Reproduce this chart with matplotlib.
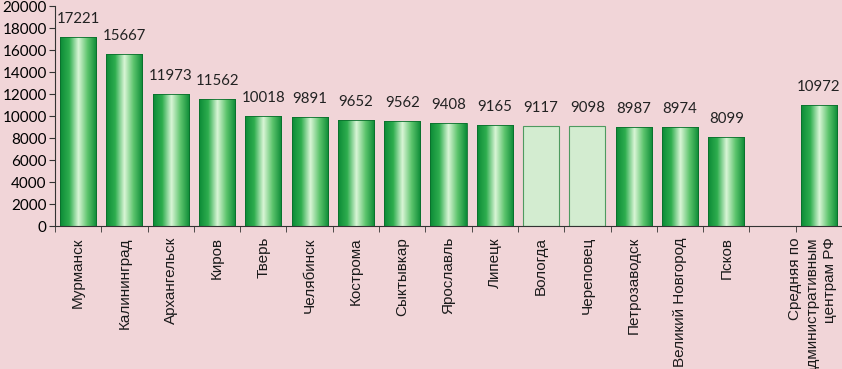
import numpy as np
import matplotlib.pyplot as plt
from matplotlib.patches import Rectangle
from matplotlib.colors import LinearSegmentedColormap

# данные
cities = ['Мурманск', 'Калининград', 'Архангельск', 'Киров', 'Тверь', 'Челябинск',
          'Кострома', 'Сыктывкар', 'Ярославль', 'Липецк', 'Вологда', 'Череповец',
          'Петрозаводск', 'Великий Новгород', 'Псков', '',
          'Средняя по\nадминистративным\nцентрам РФ']
values = [17221, 15667, 11973, 11562, 10018, 9891, 9652, 9562, 9408, 9165,
          9117, 9098, 8987, 8974, 8099, None, 10972]
light = ['Вологда', 'Череповец']

bg = '#f1d5d8'
fig = plt.figure(figsize=(8.42, 3.69), dpi=100, facecolor=bg)
ax = fig.add_axes([55 / 842, 143 / 369, 787 / 842, 220 / 369])
ax.set_facecolor(bg)

grad = LinearSegmentedColormap.from_list(
    'g', ['#0b8a36', '#2fae4f', '#d9f5d6', '#5cc46c', '#0b8a36'])
row = np.linspace(0, 1, 200).reshape(1, -1)

w = 0.78
x = np.arange(len(cities))
for i, v in enumerate(values):
    if v is None:
        continue
    if cities[i] in light:
        ax.bar(i, v, w, color='#d3ecd0', edgecolor='#4f9a60', linewidth=0.8, zorder=2)
    else:
        rect = Rectangle((i - w / 2, 0), w, v, facecolor='none',
                         edgecolor='#0a6e2c', linewidth=0.6, zorder=3)
        ax.add_patch(rect)
        im = ax.imshow(row, cmap=grad, aspect='auto',
                       extent=(i - w / 2, i + w / 2, 0, v), zorder=2)
        im.set_clip_path(rect)
    ax.text(i, v + 1000, str(v), ha='center', va='bottom',
            fontsize=10.8, family='Lato', color='#222222')

ax.set_xlim(-0.5, len(cities) - 0.5)
ax.set_ylim(0, 20000)
ax.set_yticks(range(0, 20001, 2000))
ax.set_yticklabels([str(t) for t in range(0, 20001, 2000)], family='Lato', fontsize=11)
# подпись последнего столбца чуть левее, чтобы влезла
pos = x.astype(float)
pos[-1] -= 0.14
ax.set_xticks(pos)
ax.set_xticklabels(cities, rotation=90, fontsize=11, family='Liberation Sans',
                   va='top', ha='center', multialignment='right',
                   linespacing=1.3, color='#1a1a1a')
ax.set_xticks(np.arange(len(cities) + 1) - 0.5, minor=True)
ax.tick_params(axis='x', which='major', length=0, pad=8)
ax.tick_params(axis='x', which='minor', length=4, direction='out', color='#333333')
ax.tick_params(axis='y', length=4, direction='out', color='#333333', pad=2)
for s in ['top', 'right']:
    ax.spines[s].set_visible(False)
ax.spines['left'].set_color('#333333')
ax.spines['bottom'].set_color('#333333')

fig.savefig('out.png', dpi=100, facecolor=bg)
